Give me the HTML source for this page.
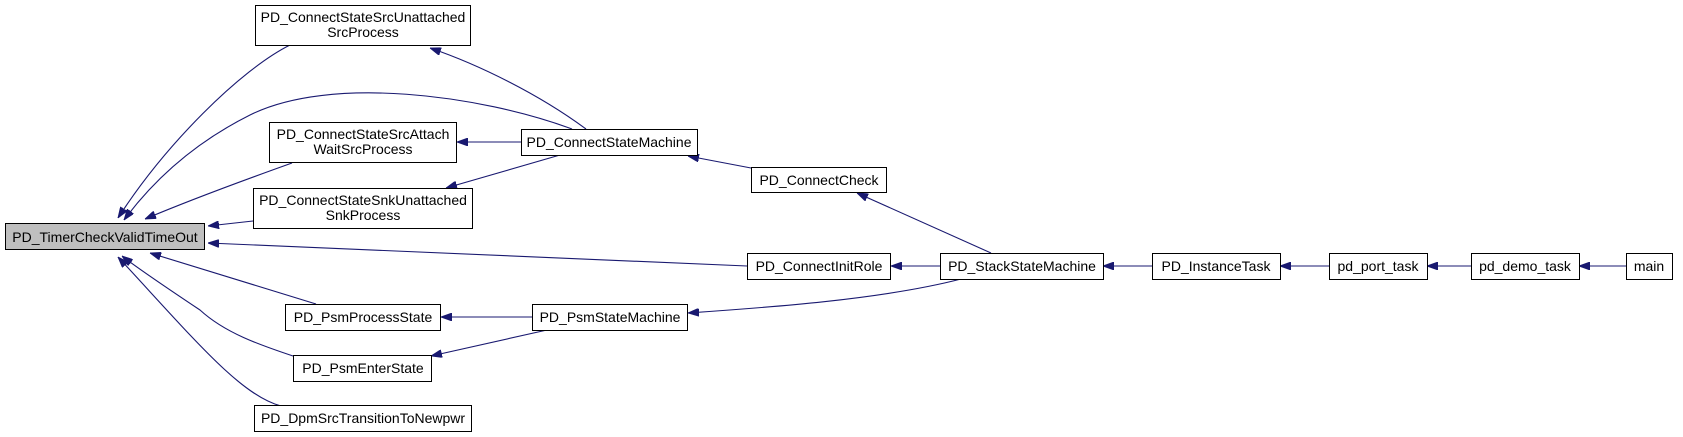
<!DOCTYPE html>
<html><head><meta charset="utf-8"><style>
html,body{margin:0;padding:0;background:#fff;}
svg{display:block;}
text{font-family:"Liberation Sans",Arial,sans-serif;font-size:14px;fill:#000;text-anchor:middle;}
rect{fill:#fff;stroke:#000;stroke-width:1;}
path{fill:none;stroke:#191970;stroke-width:1.1;}
</style></head><body>
<svg width="1683" height="437" viewBox="0 0 1683 437" xmlns="http://www.w3.org/2000/svg">
<defs>
<marker id="a" viewBox="0 0 10 10" refX="10" refY="5" markerWidth="11" markerHeight="8" markerUnits="userSpaceOnUse" orient="auto" preserveAspectRatio="none">
<path d="M0,0 L10,5 L0,10 z" style="fill:#191970;stroke:#191970;stroke-width:1"/>
</marker>
</defs>
<g marker-end="url(#a)">
<path d="M290,45 C240,70 165,145 118,218"/>
<path d="M572,129 C480,95 330,75 250,115 C190,145 150,185 124,220"/>
<path d="M292,163 C250,178 190,200 145,219"/>
<path d="M253,221 L208,226"/>
<path d="M747,266 L208,243"/>
<path d="M316,304 L150,253"/>
<path d="M293,356 C260,345 225,333 200,310 C170,290 140,270 122,256"/>
<path d="M281,406 C240,395 195,340 118,257"/>
<path d="M586,129 C540,95 480,65 430,48"/>
<path d="M521,142 L457,142"/>
<path d="M560,155 L446,188"/>
<path d="M751,168 L688,156"/>
<path d="M991,253 L857,193"/>
<path d="M940,266 L891,266"/>
<path d="M961,279 C880,300 760,308 688,313"/>
<path d="M532,317 L441,317"/>
<path d="M547,330 L431,356"/>
<path d="M1152,266 L1103,266"/>
<path d="M1329,266 L1280,266"/>
<path d="M1471,266 L1427,266"/>
<path d="M1626,266 L1579,266"/>
</g>
<rect x="5.5" y="223.5" width="199" height="26" style="fill:#bfbfbf"/><text x="105" y="242">PD_TimerCheckValidTimeOut</text>
<rect x="255.5" y="5.5" width="215" height="40"/><text x="363" y="22">PD_ConnectStateSrcUnattached</text><text x="363" y="37">SrcProcess</text>
<rect x="269.5" y="122.5" width="187" height="40"/><text x="363" y="139">PD_ConnectStateSrcAttach</text><text x="363" y="154">WaitSrcProcess</text>
<rect x="253.5" y="188.5" width="219" height="40"/><text x="363" y="205">PD_ConnectStateSnkUnattached</text><text x="363" y="220">SnkProcess</text>
<rect x="285.5" y="304.5" width="155" height="26"/><text x="363" y="322">PD_PsmProcessState</text>
<rect x="293.5" y="355.5" width="138" height="26"/><text x="363" y="373">PD_PsmEnterState</text>
<rect x="254.5" y="405.5" width="217" height="26"/><text x="363" y="423">PD_DpmSrcTransitionToNewpwr</text>
<rect x="521.5" y="129.5" width="176" height="26"/><text x="609" y="147">PD_ConnectStateMachine</text>
<rect x="532.5" y="304.5" width="155" height="26"/><text x="610" y="322">PD_PsmStateMachine</text>
<rect x="751.5" y="167.5" width="135" height="25"/><text x="819" y="185">PD_ConnectCheck</text>
<rect x="747.5" y="253.5" width="143" height="26"/><text x="819" y="271">PD_ConnectInitRole</text>
<rect x="940.5" y="253.5" width="163" height="26"/><text x="1022" y="271">PD_StackStateMachine</text>
<rect x="1152.5" y="253.5" width="128" height="26"/><text x="1216" y="271">PD_InstanceTask</text>
<rect x="1329.5" y="253.5" width="98" height="26"/><text x="1378" y="271">pd_port_task</text>
<rect x="1471.5" y="253.5" width="108" height="26"/><text x="1525" y="271">pd_demo_task</text>
<rect x="1626.5" y="253.5" width="46" height="26"/><text x="1649" y="271">main</text>
</svg>
</body></html>
